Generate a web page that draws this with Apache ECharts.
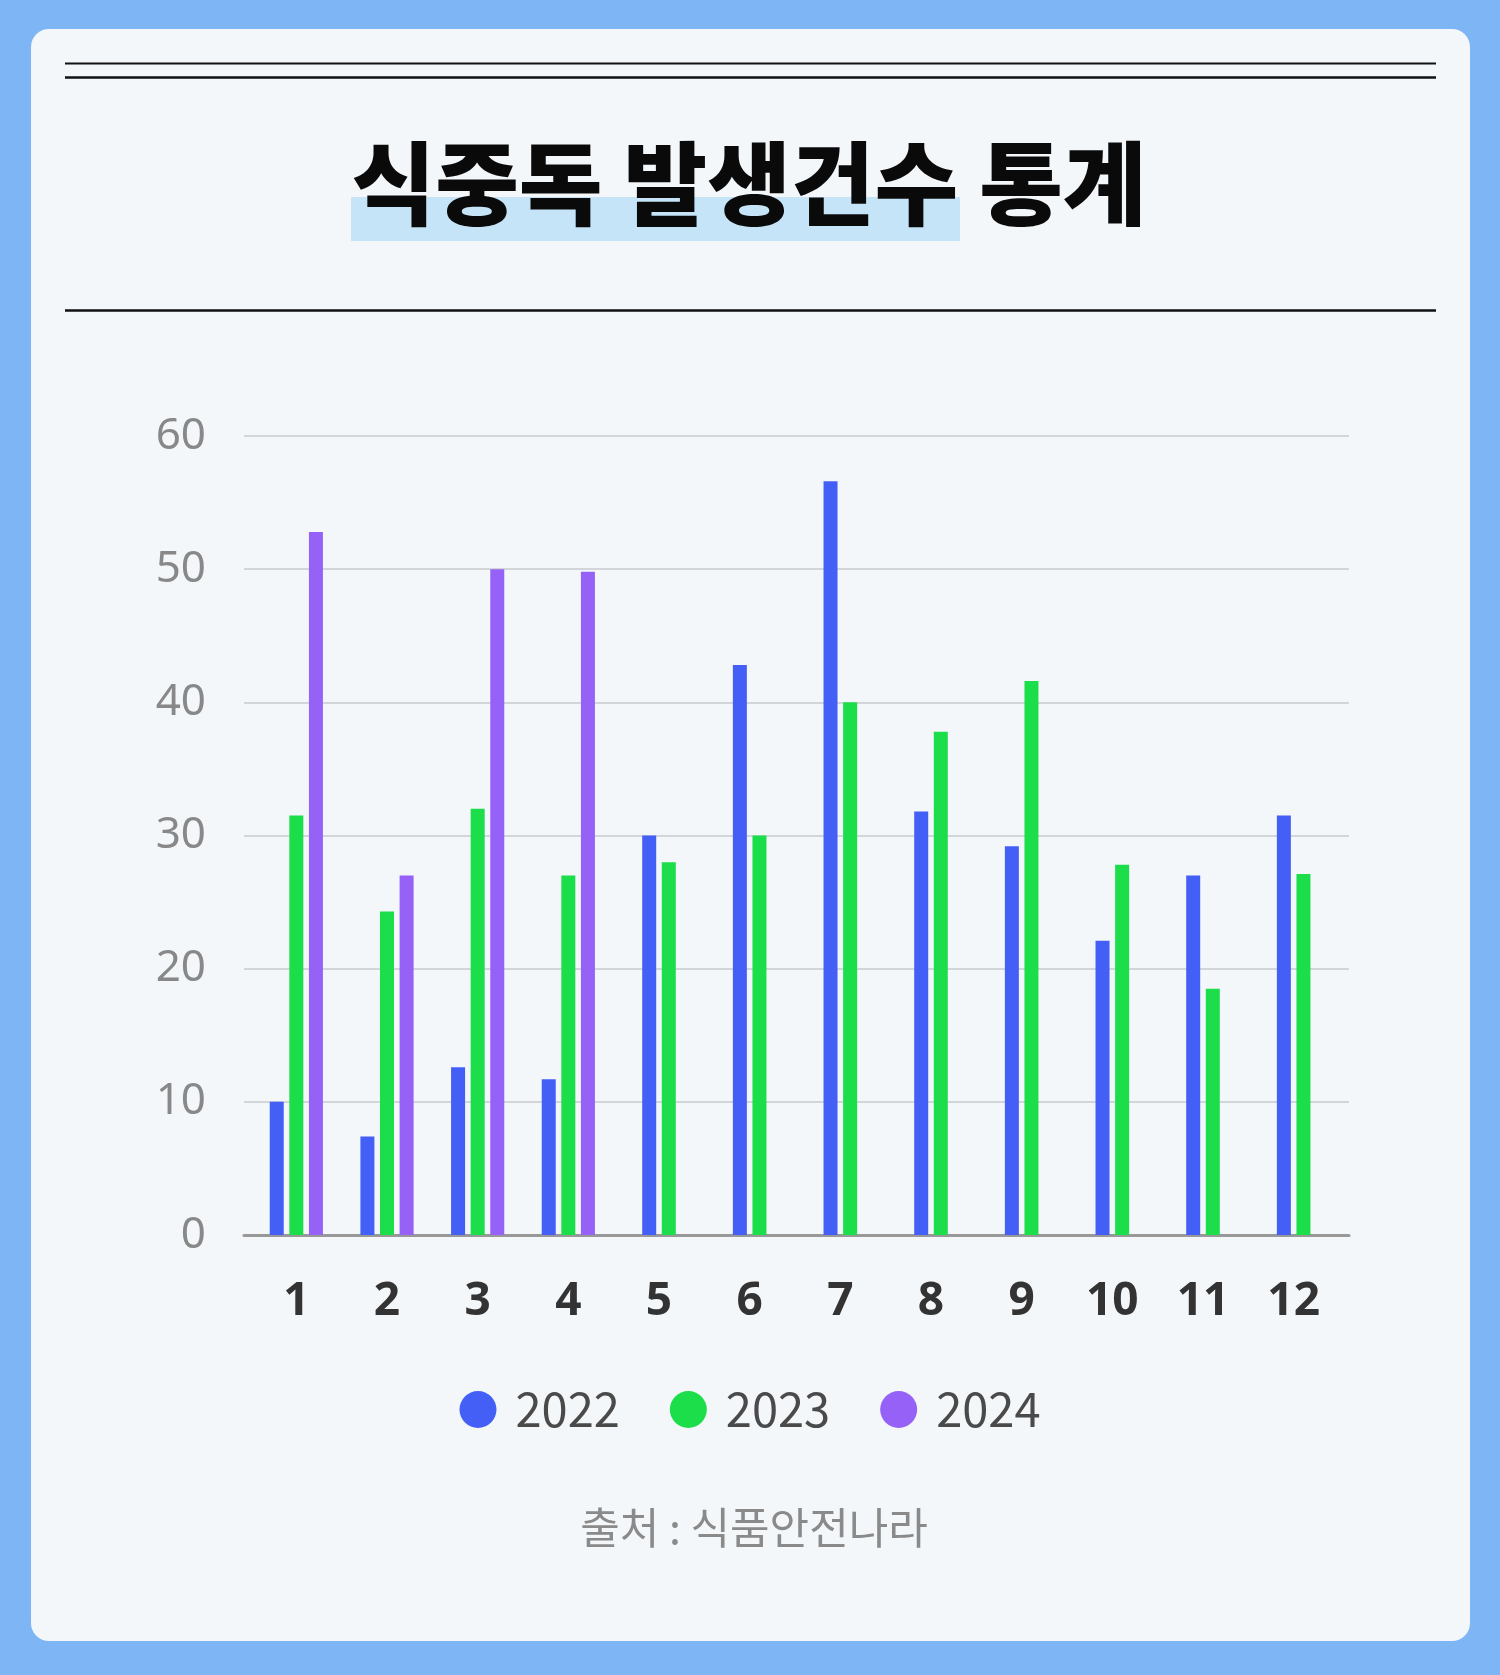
<!DOCTYPE html>
<html>
<head>
<meta charset="utf-8">
<script src="https://cdn.jsdelivr.net/npm/echarts@6/dist/echarts.min.js"></script>
<style>
  html, body { margin: 0; padding: 0; background: #7eb6f5; }
  #chart { width: 1500px; height: 1675px; }
</style>
</head>
<body>
<div id="chart"></div>
<script>
var months = ['1', '2', '3', '4', '5', '6', '7', '8', '9', '10', '11', '12'];
var v2022 = [10, 7.4, 12.6, 11.7, 30, 42.8, 56.6, 31.8, 29.2, 22.1, 27, 31.5];
var v2023 = [31.5, 24.3, 32, 27, 28, 30, 40, 37.8, 41.6, 27.8, 18.5, 27.1];
var v2024 = [52.8, 27, 50, 49.8];
var yTicks = [0, 10, 20, 30, 40, 50, 60];
var years = ['2022', '2023', '2024'];
var colors = ['#445ff6', '#1cdd4a', '#9661f7'];

// months that have a 2024 value get three bars, the rest get a centred pair
var n3 = v2024.length;
function firstPart(arr) { return arr.map(function (v, i) { return i < n3 ? v : null; }); }
function lastPart(arr) { return arr.map(function (v, i) { return i < n3 ? null : v; }); }

var dom = document.getElementById('chart');
var myChart = echarts.init(dom);

var barBase = { type: 'bar', barWidth: 14, barGap: '40%', yAxisIndex: 0 };

option = {
    animation: false,
    textStyle: { fontFamily: '"Noto Sans", "Noto Sans CJK KR", sans-serif' },
    graphic: [
        { type: 'rect', shape: { x: 31, y: 29, width: 1439, height: 1612, r: 18 }, style: { fill: '#f3f7fa' }, z: -10 },
        { type: 'line', shape: { x1: 65, y1: 63.5, x2: 1436, y2: 63.5 }, style: { stroke: '#111', lineWidth: 2 } },
        { type: 'line', shape: { x1: 65, y1: 77.5, x2: 1436, y2: 77.5 }, style: { stroke: '#111', lineWidth: 2.5 } },
        { type: 'line', shape: { x1: 65, y1: 310.5, x2: 1436, y2: 310.5 }, style: { stroke: '#111', lineWidth: 2.5 } },
        { type: 'rect', shape: { x: 351, y: 197, width: 609, height: 44 }, style: { fill: '#c6e4f8' }, z: 1 },
        {
            type: 'text', x: 749, y: 183, z: 2,
            style: {
                text: '식중독 발생건수 통계',
                font: '900 91px "Noto Sans CJK KR"',
                fill: '#0a0a0a', align: 'center', verticalAlign: 'middle'
            }
        },
        {
            type: 'text', x: 754, y: 1528,
            style: {
                text: '출처 : 식품안전나라',
                font: '400 43px "Noto Sans CJK KR"',
                fill: '#8a8a8a', align: 'center', verticalAlign: 'middle'
            }
        }
    ],
    legend: {
        data: years,
        top: 1381,
        left: 'center',
        icon: 'circle',
        itemWidth: 37,
        itemHeight: 37,
        itemGap: 50,
        textStyle: { fontSize: 47, color: '#4a4a4a', fontFamily: '"Noto Sans CJK KR", sans-serif', padding: [0, 0, 0, 14] }
    },
    grid: [
        { left: 251, right: 161, top: 436, bottom: 440 },
        { left: 244, right: 151, top: 436, bottom: 440 }
    ],
    xAxis: [
        {
            type: 'category', gridIndex: 0, data: months,
            axisLine: { show: false }, axisTick: { show: false },
            axisLabel: { fontSize: 46, fontWeight: 'bold', color: '#333', margin: 44, lineHeight: 46 }
        },
        { type: 'category', gridIndex: 0, data: months, show: false },
        {
            type: 'category', gridIndex: 1, data: months,
            axisLine: { show: true, lineStyle: { color: '#999', width: 3 } },
            axisTick: { show: false }, axisLabel: { show: false }
        }
    ],
    yAxis: [
        { type: 'value', gridIndex: 0, min: 0, max: 60, interval: 10, show: false, splitLine: { show: false } },
        {
            type: 'value', gridIndex: 1, min: yTicks[0], max: yTicks[yTicks.length - 1], interval: 10,
            axisLine: { show: false }, axisTick: { show: false },
            axisLabel: { fontSize: 44, color: '#888', margin: 38 },
            splitLine: { lineStyle: { color: '#d3d6d9', width: 2 } }
        }
    ],
    series: [
        Object.assign({}, barBase, { name: years[0], xAxisIndex: 0, data: firstPart(v2022), itemStyle: { color: colors[0] } }),
        Object.assign({}, barBase, { name: years[1], xAxisIndex: 0, data: firstPart(v2023), itemStyle: { color: colors[1] } }),
        Object.assign({}, barBase, { name: years[2], xAxisIndex: 0, data: v2024, itemStyle: { color: colors[2] } }),
        Object.assign({}, barBase, { name: years[0], xAxisIndex: 1, data: lastPart(v2022), itemStyle: { color: colors[0] } }),
        Object.assign({}, barBase, { name: years[1], xAxisIndex: 1, data: lastPart(v2023), itemStyle: { color: colors[1] } })
    ]
};

if (option && typeof option === 'object') {
    myChart.setOption(option, true);
}
</script>
</body>
</html>
